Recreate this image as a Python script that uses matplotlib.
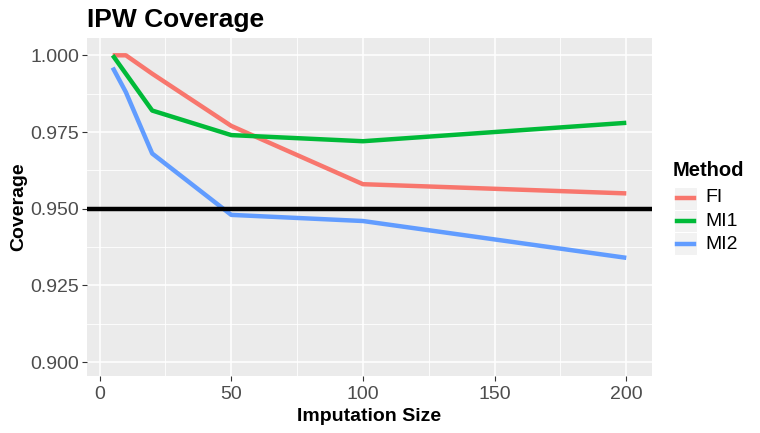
import matplotlib
matplotlib.use("Agg")
import matplotlib.pyplot as plt
from matplotlib.lines import Line2D
from matplotlib.patches import Rectangle

plt.rcParams['font.family'] = ['Liberation Sans', 'DejaVu Sans']

imputation_size = [5, 10, 20, 50, 100, 200]
fi = [1.000, 1.000, 0.994, 0.977, 0.958, 0.955]
mi1 = [1.000, 0.994, 0.982, 0.974, 0.972, 0.978]
mi2 = [0.996, 0.988, 0.968, 0.948, 0.946, 0.934]
methods = ["FI", "MI1", "MI2"]
colors = ["#F8766D", "#00BA38", "#619CFF"]
x_ticks = [0, 50, 100, 150, 200]
y_ticks = [0.900, 0.925, 0.950, 0.975, 1.000]
ref_line = 0.95

fig = plt.figure(figsize=(7.6, 4.33), dpi=100)
ax = fig.add_axes([87/760, 1-376/433, (652-87)/760, (376-37.5)/433])
ax.set_facecolor("#EBEBEB")
for s in ax.spines.values():
    s.set_visible(False)

# gridlines
for xv in [25, 75, 125, 175]:
    ax.axvline(xv, color="white", lw=0.6, zorder=0)
for yv in [0.9125, 0.9375, 0.9625, 0.9875]:
    ax.axhline(yv, color="white", lw=0.6, zorder=0)
for xv in x_ticks:
    ax.axvline(xv, color="white", lw=1.1, zorder=0)
for yv in y_ticks:
    ax.axhline(yv, color="white", lw=1.1, zorder=0)

for vals, c in zip([fi, mi1, mi2], colors):
    ax.plot(imputation_size, vals, color=c, lw=3.2, solid_capstyle="butt", zorder=2)
ax.axhline(ref_line, color="black", lw=3.2, zorder=3)

ax.set_xlim(-4.75, 209.75)
ax.set_ylim(0.8955, 1.0058)
ax.set_xticks(x_ticks)
ax.set_yticks(y_ticks)
ax.set_yticklabels([f"{v:.3f}" for v in y_ticks])
ax.tick_params(axis="both", colors="#333333", labelcolor="#4D4D4D", labelsize=14,
               length=3.5, width=0.8, pad=2)
ax.tick_params(axis="x", pad=4)
ax.set_xlabel("Imputation Size", fontsize=14, fontweight="bold", labelpad=3)
ax.set_ylabel("Coverage", fontsize=14, fontweight="bold", labelpad=2)
fig.text(87/760, 1-20/433, "IPW Coverage", fontsize=19, fontweight="bold",
         ha="left", va="center")

# legend
fig.text(673/760, 1-171/433, "Method", fontsize=14.5, fontweight="bold", ha="left", va="center")
for i, (m, c) in enumerate(zip(methods, colors)):
    yc = 198 + i * 23
    fig.patches.append(Rectangle((674/760, 1-(yc+11.5)/433), 23/760, 23/433,
                                 transform=fig.transFigure, facecolor="#F2F2F2",
                                 edgecolor="white", lw=0.8))
    fig.lines.append(Line2D([677/760, 694/760], [1-yc/433, 1-yc/433],
                            transform=fig.transFigure, color=c, lw=3.2))
    fig.text(705/760, 1-yc/433, m, fontsize=14, ha="left", va="center")

fig.savefig("out.png", dpi=100)
